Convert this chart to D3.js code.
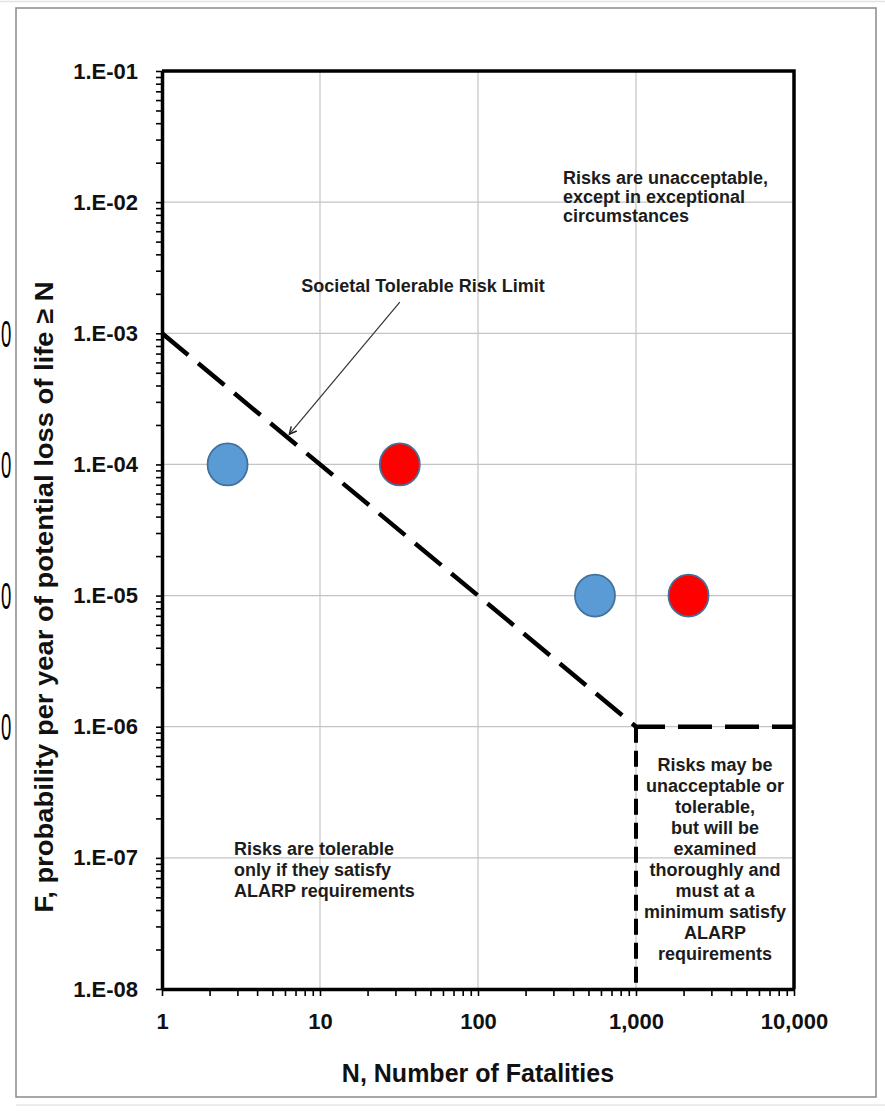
<!DOCTYPE html>
<html>
<head>
<meta charset="utf-8">
<script src="https://cdn.jsdelivr.net/npm/d3@7/dist/d3.min.js"></script>
<style>
  html, body { margin: 0; padding: 0; background: #fff; }
  svg { display: block; font-family: Arial, "Liberation Sans", sans-serif; }
</style>
</head>
<body>
<svg id="chart" width="885" height="1111"></svg>
<script>
// ---- Data ----
const xTickValues = [1, 10, 100, 1000, 10000];
const xTickLabels = ["1", "10", "100", "1,000", "10,000"];
const yTickValues = [1e-1, 1e-2, 1e-3, 1e-4, 1e-5, 1e-6, 1e-7, 1e-8];
const yTickLabels = ["1.E-01", "1.E-02", "1.E-03", "1.E-04", "1.E-05", "1.E-06", "1.E-07", "1.E-08"];
const minorMultipliers = [2, 3, 4, 5, 6, 7, 8, 9];

// Societal tolerable risk limit (dashed)
const limitN = [1, 1000, 10000];
const limitF = [1e-3, 1e-6, 1e-6];
// Vertical boundary (dashed)
const boundaryN = [1000, 1000];
const boundaryF = [1e-6, 1e-8];

// Scenario points
const blueN = [2.6, 550];
const blueF = [1e-4, 1e-5];
const redN = [32, 2150];
const redF = [1e-4, 1e-5];

// Annotation arrow (from label to the limit line), data coords
const arrowN = [32, 6.4];
const arrowF = [1.73e-3, 1.7e-4];

const topRightText = ["Risks are unacceptable,", "except in exceptional", "circumstances"];
const bottomLeftText = ["Risks are tolerable", "only if they satisfy", "ALARP requirements"];
const bottomRightText = ["Risks may be", "unacceptable or", "tolerable,", "but will be", "examined",
  "thoroughly and", "must at a", "minimum satisfy", "ALARP", "requirements"];
const strayLabels = ["0", "0", "0", "0"];
const strayF = [1e-3, 1e-4, 1e-5, 1e-6];

// ---- Drawing ----
const svg = d3.select("#chart");
const L = 162, R = 794, T = 71, B = 989;
const x = d3.scaleLog().domain([1, 10000]).range([L, R]);
const y = d3.scaleLog().domain([1e-8, 1e-1]).range([B, T]);

// outer frame
svg.append("line").attr("x1", 0).attr("x2", 885).attr("y1", 1.5).attr("y2", 1.5)
  .attr("stroke", "#e2e2e2").attr("stroke-width", 1.5);
svg.append("line").attr("x1", 16).attr("x2", 885).attr("y1", 1105).attr("y2", 1105)
  .attr("stroke", "#e6e6e6").attr("stroke-width", 1.5);
svg.append("rect").attr("x", 16).attr("y", 8).attr("width", 860).attr("height", 1089)
  .attr("fill", "none").attr("stroke", "#8a8a8a").attr("stroke-width", 1.5);

// stray partly-hidden labels at far left (narrowed so they stay on the canvas)
svg.selectAll("text.stray").data(strayLabels).join("text")
  .attr("class", "stray")
  .attr("transform", (d, i) => `translate(1,${y(strayF[i])}) scale(0.5,1)`)
  .attr("dy", "0.36em")
  .attr("text-anchor", "start")
  .attr("font-size", 37).attr("fill", "#000")
  .text(d => d);

// grid
const gridX = xTickValues.slice(1, -1);
const gridY = yTickValues.slice(1, -1);
svg.append("g").selectAll("line").data(gridX).join("line")
  .attr("x1", d => x(d)).attr("x2", d => x(d)).attr("y1", T).attr("y2", B)
  .attr("stroke", "#c4c4c4").attr("stroke-width", 1.2);
svg.append("g").selectAll("line").data(gridY).join("line")
  .attr("x1", L).attr("x2", R).attr("y1", d => y(d)).attr("y2", d => y(d))
  .attr("stroke", "#c4c4c4").attr("stroke-width", 1.2);

// dashed limit lines
const line = d3.line().x(d => x(d[0])).y(d => y(d[1]));
svg.append("path")
  .attr("d", line(limitN.map((n, i) => [n, limitF[i]])))
  .attr("fill", "none").attr("stroke", "#000").attr("stroke-width", 4.5)
  .attr("stroke-dasharray", "34,13");
svg.append("path")
  .attr("d", line(boundaryN.map((n, i) => [n, boundaryF[i]])))
  .attr("fill", "none").attr("stroke", "#000").attr("stroke-width", 4)
  .attr("stroke-dasharray", "16,8");

// points
function drawPoints(ns, fs, fill) {
  svg.append("g").selectAll("ellipse").data(ns).join("ellipse")
    .attr("cx", d => x(d)).attr("cy", (d, i) => y(fs[i]))
    .attr("rx", 20).attr("ry", 21)
    .attr("fill", fill).attr("stroke", "#41719C").attr("stroke-width", 1.8);
}
drawPoints(blueN, blueF, "#5B9BD5");
drawPoints(redN, redF, "#FF0000");

// axes: major + minor ticks
function allTicks(majors) {
  const out = [];
  const sorted = majors.slice().sort((a, b) => a - b);
  sorted.forEach((m, i) => {
    out.push({ v: m, label: i });
    if (i < sorted.length - 1) minorMultipliers.forEach(k => out.push({ v: m * k, label: -1 }));
  });
  return out;
}
const xTicksAll = allTicks(xTickValues).map(t => t.v);
const yTicksAll = allTicks(yTickValues).map(t => t.v);
const labelFor = (vals, labels) => d => {
  const i = vals.findIndex(v => Math.abs(Math.log10(v) - Math.log10(d)) < 1e-6);
  return i >= 0 ? labels[i] : "";
};

const gy = svg.append("g").attr("transform", `translate(${L},0)`)
  .call(d3.axisLeft(y).tickValues(yTicksAll).tickFormat(labelFor(yTickValues, yTickLabels))
    .tickSize(6).tickSizeOuter(0).tickPadding(18));
const gx = svg.append("g").attr("transform", `translate(0,${B})`)
  .call(d3.axisBottom(x).tickValues(xTicksAll).tickFormat(labelFor(xTickValues, xTickLabels))
    .tickSize(7).tickSizeOuter(0).tickPadding(17));
[gy, gx].forEach(g => {
  g.select(".domain").attr("stroke", "#000").attr("stroke-width", 3.5);
  g.selectAll(".tick line").attr("stroke", "#000").attr("stroke-width", 1.6);
  g.selectAll(".tick text").attr("font-size", 22).attr("font-weight", "bold")
    .attr("fill", "#111").attr("font-family", "Arial, 'Liberation Sans', sans-serif");
});
// top and right frame of plot
svg.append("path").attr("d", `M${L},${T}H${R}V${B}`)
  .attr("fill", "none").attr("stroke", "#000").attr("stroke-width", 3.5);

// axis titles
svg.append("text")
  .attr("x", (L + R) / 2).attr("y", 1082)
  .attr("text-anchor", "middle").attr("font-size", 25).attr("font-weight", "bold")
  .attr("fill", "#111").text("N, Number of Fatalities");
svg.append("text")
  .attr("transform", `translate(53,597) rotate(-90)`)
  .attr("text-anchor", "middle").attr("font-size", 26).attr("font-weight", "bold")
  .attr("textLength", 631).attr("lengthAdjust", "spacingAndGlyphs")
  .attr("fill", "#111").text("F, probability per year of potential loss of life \u2265 N");

// annotation arrow
svg.append("defs").append("marker")
  .attr("id", "arr").attr("viewBox", "0 0 10 10").attr("refX", 9).attr("refY", 5)
  .attr("markerWidth", 9).attr("markerHeight", 9).attr("orient", "auto")
  .attr("markerUnits", "userSpaceOnUse")
  .append("path").attr("d", "M1,1 L9,5 L1,9").attr("fill", "none")
  .attr("stroke", "#222").attr("stroke-width", 1.6);
svg.append("line")
  .attr("x1", x(arrowN[0])).attr("y1", y(arrowF[0]))
  .attr("x2", x(arrowN[1])).attr("y2", y(arrowF[1]))
  .attr("stroke", "#333").attr("stroke-width", 1.2)
  .attr("marker-end", "url(#arr)");

const txt = (xx, yy, s, anchor) => svg.append("text")
  .attr("x", xx).attr("y", yy).attr("text-anchor", anchor || "start")
  .attr("font-size", 18).attr("font-weight", "bold").attr("fill", "#1c1c1c").text(s);

txt(423, 292, "Societal Tolerable Risk Limit", "middle");
topRightText.forEach((s, i) => txt(563, 184 + i * 19, s));
bottomLeftText.forEach((s, i) => txt(234, 855 + i * 21, s));
bottomRightText.forEach((s, i) => txt(715, 771 + i * 21, s, "middle"));
</script>
</body>
</html>
